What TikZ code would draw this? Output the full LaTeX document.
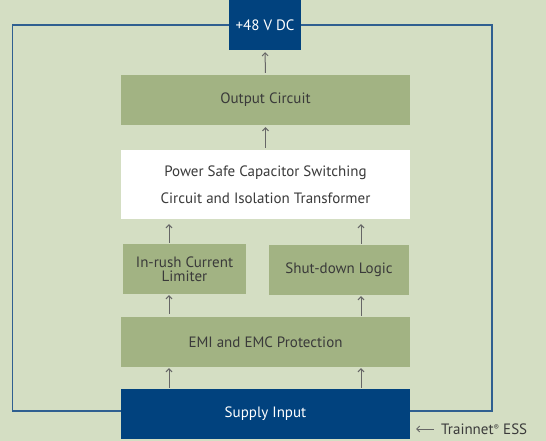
\documentclass[tikz,border=0pt]{standalone}
\usepackage{fontspec}
\setmainfont{PT Sans}
\usetikzlibrary{arrows.meta}
\definecolor{bg}{HTML}{D4DEC3}
\definecolor{boxgreen}{HTML}{A2B383}
\definecolor{navy}{HTML}{01427E}
\definecolor{frameblue}{HTML}{2F5F90}
\definecolor{txt}{HTML}{3A3A3A}
\definecolor{arrgray}{HTML}{666666}
\begin{document}
\begin{tikzpicture}[x=1pt,y=-1pt,
  every node/.style={inner sep=0pt,font=\fontsize{15}{15}\selectfont},
  gbox/.style={fill=boxgreen,text=txt,align=center},
  bbox/.style={fill=navy,text=white,align=center},
  wbox/.style={fill=white,text=txt,align=center},
  arr/.style={draw=arrgray,line width=1pt,-{Straight Barb[length=3pt,width=6pt]}}]
\fill[bg] (0,0) rectangle (546,441);
\useasboundingbox (0,0) rectangle (546,441);
% frame
\draw[frameblue,line width=1.5pt] (12.5,25) rectangle (492,411);
% boxes
\node[bbox,minimum width=72pt,minimum height=50pt] (v48) at (265,25) {+48 V DC};
\node[gbox,minimum width=289pt,minimum height=50pt] (out) at (265.5,100) {Output Circuit};
\node[wbox,minimum width=289pt,minimum height=69pt,font=\fontsize{15}{27}\selectfont] (psc) at (265.5,184.5) {Power Safe Capacitor Switching\\Circuit and Isolation Transformer};
\node[gbox,minimum width=123pt,minimum height=50pt,font=\fontsize{15}{14}\selectfont] (lim) at (184.5,269) {In-rush Current\\Limiter};
\node[gbox,minimum width=140pt,minimum height=50pt] (sd) at (339,270) {Shut-down Logic};
\node[gbox,minimum width=289pt,minimum height=50pt] (emi) at (265.5,342) {EMI and EMC Protection};
\node[bbox,minimum width=289pt,minimum height=50pt] (sup) at (265.5,414) {Supply Input};
\node[text=txt,anchor=west] (tn) at (441,429) {Trainnet\raisebox{0.55ex}{\fontsize{8}{8}\selectfont ®} ESS};
\coordinate (tnend) at (416,429);
% columns
\coordinate (cL) at (169,0);
\coordinate (cR) at (361,0);
% arrows
\draw[arr,shorten <=2pt,shorten >=2pt] (out.north) -- (v48.south);
\draw[arr,shorten <=2pt,shorten >=2pt] (psc.north) -- (out.south);
\draw[arr,shorten <=1pt,shorten >=5pt] (cL |- lim.north) -- (cL |- psc.south);
\draw[arr,shorten <=1pt,shorten >=5pt] (cR |- sd.north) -- (cR |- psc.south);
\draw[arr,shorten <=3pt,shorten >=1pt] (cL |- emi.north) -- (cL |- lim.south);
\draw[arr,shorten <=1pt,shorten >=1pt] (cR |- emi.north) -- (cR |- sd.south);
\draw[arr,shorten <=1pt,shorten >=1pt] (cL |- sup.north) -- (cL |- emi.south);
\draw[arr,shorten <=1pt,shorten >=1pt] (cR |- sup.north) -- (cR |- emi.south);
\draw[arr,shorten <=7pt] (tn.west) -- (tnend);
\end{tikzpicture}
\end{document}
